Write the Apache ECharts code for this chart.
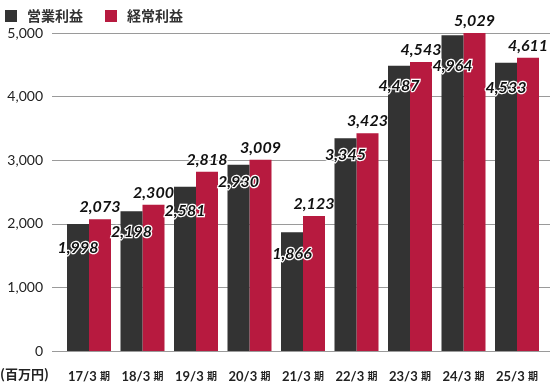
<!DOCTYPE html>
<html><head><meta charset="utf-8">
<script src="https://cdn.jsdelivr.net/npm/echarts@6/dist/echarts.min.js"></script>
<style>html,body{margin:0;padding:0;background:#fff}#c{width:550px;height:384px}</style>
</head><body><div id="c"></div>
<script>
var categories = ['17/3', '18/3', '19/3', '20/3', '21/3', '22/3', '23/3', '24/3', '25/3'];
var operatingProfit = [1998, 2198, 2581, 2930, 1866, 3345, 4487, 4964, 4533];
var ordinaryProfit = [2073, 2300, 2818, 3009, 2123, 3423, 4543, 5029, 4611];
var seriesNames = ['営業利益', '経常利益'];
var yTicks = [0, 1000, 2000, 3000, 4000, 5000];
var unitLabel = '(百万円)';
var darkLabelNudge = [23, 20, 23, 16, 21, 16, 19, 30, 24];

var DARK = '#333333', RED = '#b71a3f';
function fmt(v) { return String(v).replace(/\B(?=(\d{3})+(?!\d))/g, ','); }
var labelBase = {
  show: true, fontFamily: 'Lato', fontStyle: 'italic', fontWeight: 'bold', fontSize: 16,
  color: '#111', textBorderColor: '#fff', textBorderWidth: 2.5, overflow: 'none',
  formatter: function (p) { return fmt(p.value); }
};
var darkData = operatingProfit.map(function (v, i) {
  return { value: v, label: Object.assign({}, labelBase, { position: 'top', distance: 0, offset: [0, darkLabelNudge[i] + 9] }) };
});
var chart = echarts.init(document.getElementById('c'), null, { renderer: 'canvas' });
chart.setOption({
  animation: false,
  legend: {
    left: 0, top: 4, itemWidth: 12, itemHeight: 12, itemGap: 22, icon: 'rect',
    data: seriesNames,
    textStyle: { fontFamily: 'Noto Sans CJK JP', fontWeight: 'bold', fontSize: 14, color: '#333', padding: [0, 0, 0, 5] }
  },
  grid: [
    { left: 52, right: 0, top: 33, bottom: 33 },
    { left: 62.25, right: 6.25, top: 33, bottom: 33 }
  ],
  xAxis: [
    { gridIndex: 0, type: 'value', min: 0, max: 1, show: false },
    { gridIndex: 1, type: 'category', data: categories,
      axisLine: { show: false }, axisTick: { show: false },
      axisLabel: { interval: 0, margin: 19, formatter: function (v) { return '{a|' + v + '} {b|期}'; },
        rich: { a: { fontFamily: 'Lato', fontWeight: 'bold', fontSize: 13, color: '#222' },
                b: { fontFamily: 'Noto Sans CJK JP', fontWeight: 'bold', fontSize: 10, color: '#222' } } } }
  ],
  yAxis: [
    { gridIndex: 0, type: 'value', min: yTicks[0], max: yTicks[yTicks.length - 1], interval: 1000,
      axisLine: { show: false }, axisTick: { show: false },
      splitLine: { lineStyle: { color: '#9a9a9a', width: 1 } },
      axisLabel: { margin: 9, fontFamily: 'Lato', fontSize: 14, color: '#222', formatter: function (v) { return fmt(v); } } },
    { gridIndex: 1, type: 'value', min: yTicks[0], max: yTicks[yTicks.length - 1], show: false, splitLine: { show: false } }
  ],
  graphic: [{ type: 'text', left: 0, top: 368, style: { text: unitLabel, font: 'bold 13px "Noto Sans CJK JP"', fill: '#222' } }],
  series: [
    { name: seriesNames[0], type: 'bar', xAxisIndex: 1, yAxisIndex: 1, barWidth: 22, barGap: '0%',
      itemStyle: { color: DARK }, data: darkData, z: 4 },
    { name: seriesNames[1], type: 'bar', xAxisIndex: 1, yAxisIndex: 1, barWidth: 22, barGap: '0%',
      itemStyle: { color: RED }, label: Object.assign({}, labelBase, { position: 'top', distance: 4 }),
      data: ordinaryProfit, z: 3 }
  ]
});
</script></body></html>
